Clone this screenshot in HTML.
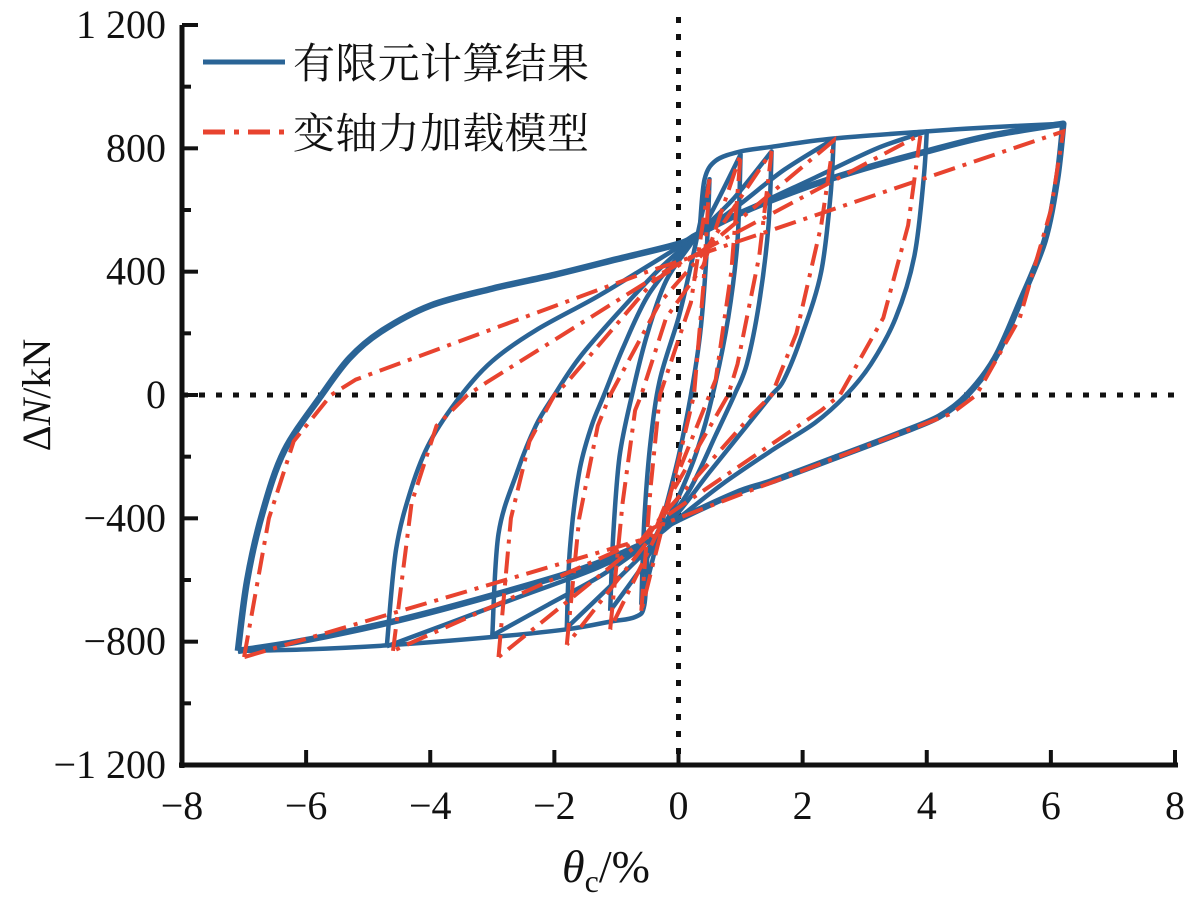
<!DOCTYPE html>
<html><head><meta charset="utf-8"><style>
body{margin:0;background:#fff}
svg text{font-family:"Liberation Serif","Noto Serif CJK SC",serif;fill:#111}
</style></head><body>
<svg width="1195" height="909" viewBox="0 0 1195 909">
<g id="grid"></g>
<g id="series"></g>
<g id="axes"></g>
<g>
<line x1="203" y1="62" x2="285" y2="62" stroke="#2a6496" stroke-width="5"/>
<text x="293" y="78" font-size="42" textLength="296" style="font-family:'Noto Serif CJK SC','Noto Sans CJK SC',serif">有限元计算结果</text>
<line x1="203" y1="132" x2="285" y2="132" stroke="#e8432f" stroke-width="5" stroke-dasharray="22 9 5 9"/>
<text x="293" y="148" font-size="42" textLength="296" style="font-family:'Noto Serif CJK SC','Noto Sans CJK SC',serif">变轴力加载模型</text>
</g>
<text x="50" y="395" font-size="40" text-anchor="middle" transform="rotate(-90 50 395)">Δ<tspan font-style="italic">N</tspan>/kN</text>
<text x="562" y="882" font-size="46"><tspan font-style="italic">θ</tspan><tspan font-size="32" dy="10">c</tspan><tspan dy="-10">/%</tspan></text>
</svg>
<script>
const xTicks=[-8,-6,-4,-2,0,2,4,6,8];
const yTicks=[-1200,-800,-400,0,400,800,1200];
const yTickLabels=["−1 200","−800","−400","0","400","800","1 200"];
const xTickLabels=["−8","−6","−4","−2","0","2","4","6","8"];
const femLoops=[
[[-7.1,-830],[-6.95,-600],[-6.7,-380],[-6.35,-180],[-5.75,0],[-5.3,120],[-4.8,205],[-4.0,290],[-3,345],[-2,390],[-1,440],[0,490],[0.3,520],[1,590],[2,670],[3,735],[4,790],[5,840],[6.2,880],[6.1,700],[5.9,500],[5.5,300],[5.1,120],[4.65,0],[4.2,-70],[3.55,-125],[2.5,-205],[1.5,-280],[0.9,-320],[-0.2,-425],[-0.45,-470],[-1.5,-560],[-3,-650],[-4.5,-730],[-6,-795],[-7.1,-830]],
[[-4.7,-815],[-4.55,-500],[-4.3,-300],[-4.0,-150],[-3.5,0],[-3.0,110],[-2.3,210],[-1.3,320],[-0.4,430],[0.3,515],[1.2,610],[2.2,705],[3.2,800],[4.0,855],[3.95,700],[3.8,450],[3.5,250],[3.1,100],[2.7,0],[2.2,-90],[1.5,-180],[0.7,-290],[0,-400],[-0.45,-470],[-1.3,-560],[-2.5,-650],[-3.7,-740],[-4.7,-815]],
[[-3.0,-780],[-2.9,-450],[-2.6,-250],[-2.3,-100],[-2.0,0],[-1.6,120],[-1.0,260],[-0.3,410],[0.3,515],[1.0,620],[1.7,730],[2.5,830],[2.45,650],[2.3,400],[2.0,200],[1.7,50],[1.5,0],[1.1,-100],[0.5,-250],[0,-380],[-0.45,-470],[-1.2,-580],[-2.1,-680],[-3.0,-780]],
[[-1.8,-755],[-1.75,-500],[-1.6,-250],[-1.4,-100],[-1.2,0],[-0.9,150],[-0.5,320],[0,450],[0.3,520],[0.9,640],[1.5,790],[1.45,550],[1.3,300],[1.1,100],[0.9,0],[0.6,-130],[0.2,-300],[-0.2,-420],[-0.5,-500],[-1.1,-620],[-1.8,-755]],
[[-1.1,-700],[-1.05,-450],[-0.95,-200],[-0.75,0],[-0.5,200],[-0.2,370],[0.2,490],[0.5,580],[1.0,780],[0.95,500],[0.8,250],[0.55,0],[0.3,-180],[0,-330],[-0.3,-450],[-0.6,-560],[-1.1,-700]],
[[-0.6,-680],[-0.55,-400],[-0.45,-150],[-0.3,50],[0,250],[0.2,420],[0.35,560],[0.5,700],[0.45,450],[0.35,200],[0.2,0],[0,-200],[-0.25,-400],[-0.45,-560],[-0.6,-680]]
];
const femEnvTop=[[0.35,560],[0.42,700],[0.6,760],[1,790],[1.5,805],[2.5,832],[4,855],[5,868],[6.2,880]];
const femEnvBot=[[-0.5,-500],[-0.55,-680],[-0.7,-720],[-1.1,-735],[-1.8,-760],[-3,-785],[-4.7,-812],[-6,-825],[-7.1,-830]];
const modelLoops=[
[[-7.0,-850],[-6.6,-400],[-6.2,-150],[-5.6,0],[-5.2,50],[-0.5,400],[0.4,460],[6.2,855],[6.0,600],[5.5,250],[4.8,0],[4.4,-60],[-0.4,-430],[-0.6,-470],[-7.0,-850]],
[[-4.6,-830],[-4.3,-350],[-3.9,-100],[-3.4,0],[-3.1,40],[-0.4,380],[0.4,470],[3.9,845],[3.7,550],[3.3,250],[2.6,0],[2.3,-50],[-0.4,-420],[-0.6,-470],[-4.6,-830]],
[[-2.9,-850],[-2.7,-400],[-2.4,-150],[-2.0,0],[-1.8,40],[-0.4,370],[0.4,470],[2.5,825],[2.3,550],[1.9,200],[1.5,0],[1.2,-60],[-0.3,-400],[-0.5,-460],[-2.9,-850]],
[[-1.8,-810],[-1.6,-400],[-1.3,-100],[-1.1,0],[-0.3,300],[0.4,460],[1.5,790],[1.3,450],[0.95,100],[0.8,0],[-0.2,-350],[-0.4,-450],[-1.8,-810]],
[[-1.1,-760],[-0.9,-350],[-0.7,-50],[-0.6,0],[-0.2,250],[0.4,420],[1.0,780],[0.85,400],[0.6,50],[0.5,0],[-0.1,-300],[-0.3,-430],[-1.1,-760]],
[[-0.6,-700],[-0.45,-300],[-0.3,0],[0.2,300],[0.5,700],[0.4,350],[0.25,0],[-0.1,-300],[-0.6,-700]]
];
const NS="http://www.w3.org/2000/svg";
const X0=182,X1=1175,Y0=765,Y1=25;
function xs(v){return X0+(v+8)/16*(X1-X0);}
function ys(v){return Y0-(v+1200)/2400*(Y0-Y1);}
function mk(tag,attrs,parent){const e=document.createElementNS(NS,tag);for(const k in attrs)e.setAttribute(k,attrs[k]);parent.appendChild(e);return e;}
function smoothSeg(p){
  let d="";
  for(let i=0;i<p.length-1;i++){
    const a=p[Math.max(i-1,0)],b=p[i],c=p[i+1],e=p[Math.min(i+2,p.length-1)];
    const t=0.16;
    d+=" C"+(b[0]+(c[0]-a[0])*t).toFixed(1)+","+(b[1]+(c[1]-a[1])*t).toFixed(1)+" "+(c[0]-(e[0]-b[0])*t).toFixed(1)+","+(c[1]-(e[1]-b[1])*t).toFixed(1)+" "+c[0].toFixed(1)+","+c[1].toFixed(1);
  }
  return d;
}
function smooth(pts){
  const p=pts.map(q=>[xs(q[0]),ys(q[1])]);
  const cuts=[0];
  for(let i=1;i<p.length-1;i++){const d1=p[i][0]-p[i-1][0],d2=p[i+1][0]-p[i][0];if(d1*d2<0)cuts.push(i);}
  cuts.push(p.length-1);
  let d="M"+p[0][0].toFixed(1)+","+p[0][1].toFixed(1);
  for(let k=0;k<cuts.length-1;k++)d+=smoothSeg(p.slice(cuts[k],cuts[k+1]+1));
  return d;
}
function poly(pts){return pts.map((q,i)=>(i?"L":"M")+xs(q[0]).toFixed(1)+","+ys(q[1]).toFixed(1)).join(" ");}
const grid=document.getElementById('grid');
const zx=mk('line',{x1:xs(0),y1:Y1-8,x2:xs(0),y2:Y0,stroke:'#111','stroke-width':5,'stroke-dasharray':'6 11'},grid);


const zy=mk('line',{x1:X0,y1:ys(0),x2:X1,y2:ys(0),stroke:'#111','stroke-width':5,'stroke-dasharray':'6 11'},grid);


const ser=document.getElementById('series');
femLoops.forEach((L,i)=>{
  const e=mk('path',{d:smooth(L),fill:'none',stroke:'#2a6496','stroke-width':i===0?6.5:4.5,'stroke-linejoin':'round'},ser);
  
  
});
[femEnvTop,femEnvBot].forEach((L,i)=>{
  const e=mk('path',{d:smooth(L),fill:'none',stroke:'#2a6496','stroke-width':4.5},ser);
  
  
});
modelLoops.forEach((L,i)=>{
  const e=mk('path',{d:poly(L),fill:'none',stroke:'#e8432f','stroke-width':4,'stroke-dasharray':'22 8 4 8'},ser);
  
  
});
const ax=document.getElementById('axes');
const yl=mk('line',{x1:X0,y1:Y1,x2:X0,y2:Y0+3,stroke:'#111','stroke-width':5},ax);


const xl=mk('line',{x1:X0-3,y1:Y0,x2:X1+3,y2:Y0,stroke:'#111','stroke-width':5},ax);


xTicks.forEach((v,i)=>{
  const t=mk('line',{x1:xs(v),y1:Y0,x2:xs(v),y2:Y0-15,stroke:'#111','stroke-width':4},ax);
  
  
  const l=mk('text',{x:xs(v),y:Y0+54,'font-size':40,'text-anchor':'middle'},ax);
  l.textContent=xTickLabels[i];
  
  
});
yTicks.forEach((v,i)=>{
  const t=mk('line',{x1:X0,y1:ys(v),x2:X0+16,y2:ys(v),stroke:'#111','stroke-width':4},ax);
  
  
  if(i<yTicks.length-1){
    const m=mk('line',{x1:X0,y1:ys(v+200),x2:X0+9,y2:ys(v+200),stroke:'#111','stroke-width':4},ax);
    
    
  }
  const l=mk('text',{x:166,y:ys(v)+13,'font-size':40,'text-anchor':'end'},ax);
  l.textContent=yTickLabels[i];
  
  
});
</script>
</body></html>
